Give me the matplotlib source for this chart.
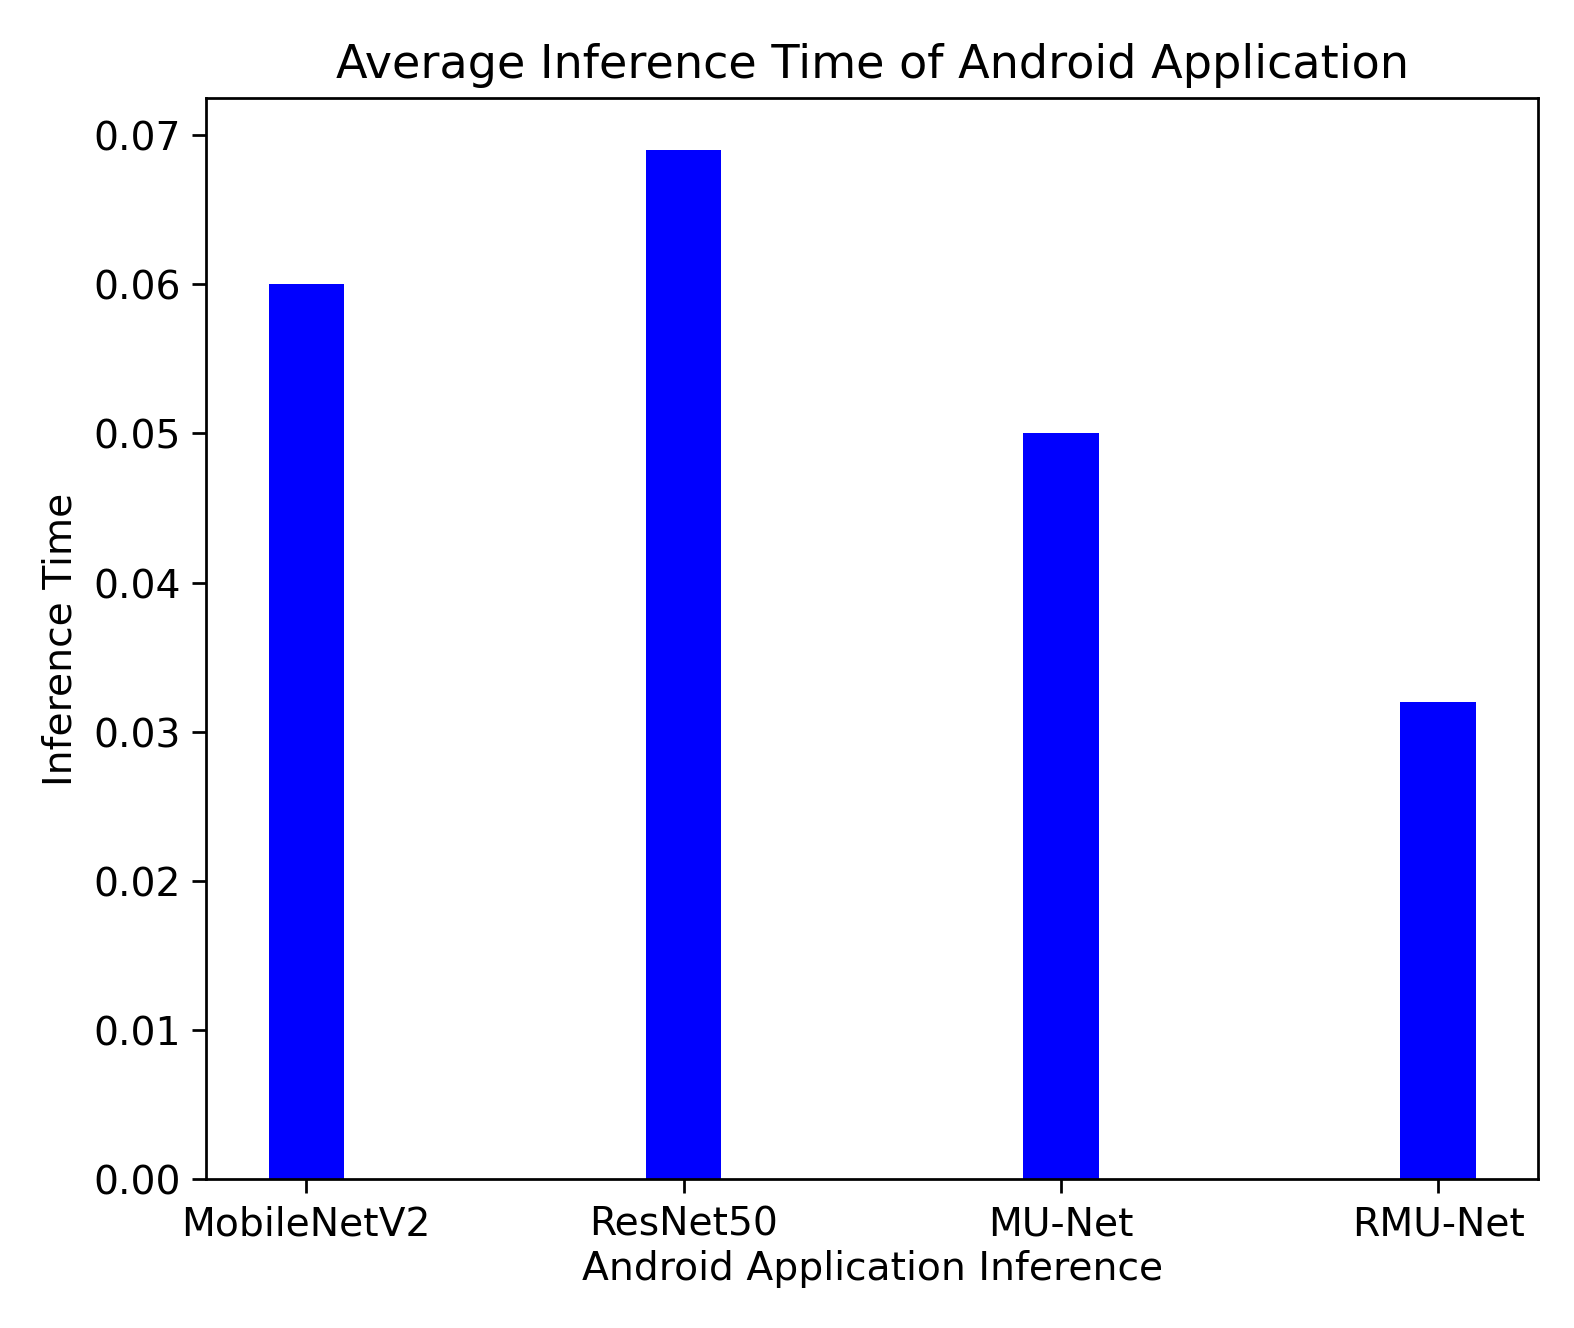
import matplotlib
matplotlib.use("Agg")
import matplotlib.pyplot as plt

models = ["MobileNetV2", "ResNet50", "MU-Net", "RMU-Net"]
inference_time = [0.060, 0.069, 0.050, 0.032]

fig = plt.figure(figsize=(6.4, 5.4), dpi=246)
ax = fig.add_axes([0.131, 0.112, 0.846, 0.814])
ax.bar(models, inference_time, width=0.2, color="blue")
ax.set_xlim(-0.265, 3.265)
ax.set_ylim(0, 0.0725)
ax.tick_params(labelsize=11.5, length=4)
ax.set_xlabel("Android Application Inference", fontsize=11.5, labelpad=2)
ax.set_ylabel("Inference Time", fontsize=11.5)
ax.set_title("Average Inference Time of Android Application", fontsize=13.5)
fig.savefig("out.png")
